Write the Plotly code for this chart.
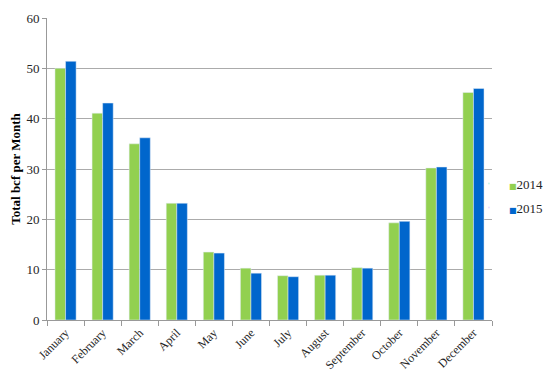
import plotly.graph_objects as go

months = ["January", "February", "March", "April", "May", "June", "July",
          "August", "September", "October", "November", "December"]
v2014 = [50.0, 41.1, 35.0, 23.2, 13.5, 10.3, 8.8, 8.9, 10.4, 19.3, 30.2, 45.2]
v2015 = [51.4, 43.1, 36.2, 23.2, 13.3, 9.3, 8.6, 8.9, 10.3, 19.6, 30.4, 46.0]
series = ["2014", "2015"]
colors = ["#92D050", "#0066CC"]

fig = go.Figure()
for name, vals, col in zip(series, [v2014, v2015], colors):
    fig.add_trace(go.Bar(x=months, y=vals, name=name, marker_color=col,
                         showlegend=False, legendgroup=name))
# legend entries: small coloured square glyph + series name
for name, col in zip(series, colors):
    fig.add_trace(go.Scatter(
        x=[None], y=[None], mode="markers", legendgroup=name,
        name=f"<span style='color:{col};font-size:8px;font-family:DejaVu Sans'>■</span>{name}",
        marker=dict(size=1, opacity=0)))

font = "Liberation Serif"
# page body has an 8px default margin, so the figure is 8px smaller
fig.update_layout(
    width=544, height=370,
    margin=dict(l=39, r=60, t=10, b=58, autoexpand=False),
    paper_bgcolor="white", plot_bgcolor="white",
    barmode="group", bargap=0.43, bargroupgap=0,
    font=dict(family=font, size=13, color="#262626"),
    legend=dict(x=1.128, xanchor="right", y=0.412, yanchor="middle",
                bgcolor="rgba(0,0,0,0)", borderwidth=0,
                font=dict(family=font, size=13, color="#262626"),
                tracegroupgap=4, itemwidth=30),
    showlegend=True,
)
fig.update_xaxes(
    automargin=False,
    showline=True, linecolor="#999", linewidth=1,
    ticks="outside", tickson="boundaries", ticklen=5, tickcolor="#999",
    tickangle=-45, tickfont=dict(family=font, size=12, color="#262626"),
    showgrid=False,
)
fig.update_yaxes(
    automargin=False,
    range=[0, 60], dtick=10, showline=True, linecolor="#999", linewidth=1,
    ticks="outside", ticklen=4, tickcolor="#999",
    showgrid=True, gridcolor="#ABABAB", gridwidth=1,
    tickfont=dict(family=font, size=13, color="#262626"),
    title=dict(text="<b>Total bcf per Month</b>",
               font=dict(family=font, size=13, color="#000"), standoff=8),
    zeroline=False,
)
fig.write_html("out.html")
